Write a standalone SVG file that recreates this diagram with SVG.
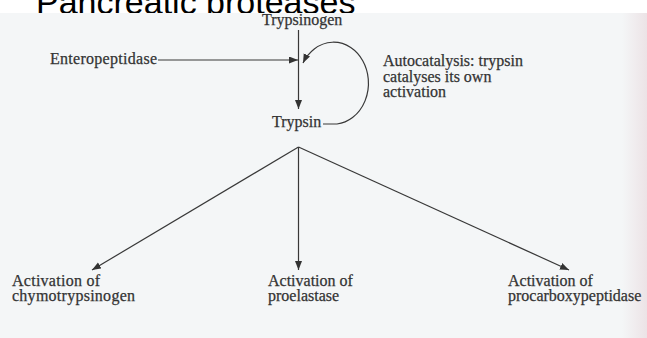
<svg xmlns="http://www.w3.org/2000/svg" width="647" height="338" viewBox="0 0 647 338">
  <style>
    .lbl { font-family: "Liberation Serif", "Times New Roman", serif; font-size: 16px; fill: #333333; stroke: #333333; stroke-width: 0.25; }
    .title { font-family: "Liberation Sans", Arial, sans-serif; font-size: 34px; fill: #000; }
    .conn { stroke: #383838; stroke-width: 1.2; fill: none; }
  </style>
  <defs>
    <marker id="ah" markerUnits="userSpaceOnUse" markerWidth="10" markerHeight="8" refX="9" refY="3.5" orient="auto">
      <path d="M0,0 L9,3.5 L0,7 Z" fill="#333"/>
    </marker>
    <linearGradient id="edge" x1="0" y1="0" x2="1" y2="0">
      <stop offset="0" stop-color="#f4f6f7"/>
      <stop offset="1" stop-color="#ece3e6"/>
    </linearGradient>
    <clipPath id="titleclip"><rect x="0" y="0" width="647" height="13"/></clipPath>
  </defs>

  <rect x="0" y="0" width="647" height="338" fill="#ffffff"/>
  <g id="title" clip-path="url(#titleclip)">
    <text class="title" x="36" y="13.5">Pancreatic proteases</text>
  </g>
  <rect x="0" y="13" width="647" height="325" fill="#f4f6f7"/>
  <rect x="622" y="13" width="25" height="325" fill="url(#edge)"/>

  <g id="connectors">
    <line class="conn" x1="298.5" y1="30" x2="298.5" y2="109" marker-end="url(#ah)"/>
    <line class="conn" x1="158" y1="60" x2="298" y2="60" marker-end="url(#ah)"/>
    <path class="conn" d="M323,124 L337,124 A35 41 0 1 0 303,63" marker-end="url(#ah)"/>
    <line class="conn" x1="298.5" y1="147" x2="92" y2="270" marker-end="url(#ah)"/>
    <line class="conn" x1="298.5" y1="147" x2="298.5" y2="270" marker-end="url(#ah)"/>
    <line class="conn" x1="298.5" y1="147" x2="569" y2="270" marker-end="url(#ah)"/>
  </g>

  <g id="trypsinogen"><text class="lbl" x="262" y="25">Trypsinogen</text></g>
  <g id="enteropeptidase"><text class="lbl" x="50" y="64" textLength="107">Enteropeptidase</text></g>
  <g id="autocatalysis">
    <text class="lbl" x="383" y="66">Autocatalysis: trypsin</text>
    <text class="lbl" x="383" y="81.5">catalyses its own</text>
    <text class="lbl" x="383" y="97">activation</text>
  </g>
  <g id="trypsin"><text class="lbl" x="272" y="127">Trypsin</text></g>
  <g id="act-chymotrypsinogen">
    <text class="lbl" x="12" y="285.5" textLength="88">Activation of</text>
    <text class="lbl" x="12" y="301" textLength="123">chymotrypsinogen</text>
  </g>
  <g id="act-proelastase">
    <text class="lbl" x="268" y="285.5">Activation of</text>
    <text class="lbl" x="268" y="301">proelastase</text>
  </g>
  <g id="act-procarboxypeptidase">
    <text class="lbl" x="508" y="285.5">Activation of</text>
    <text class="lbl" x="508" y="301">procarboxypeptidase</text>
  </g>
</svg>
